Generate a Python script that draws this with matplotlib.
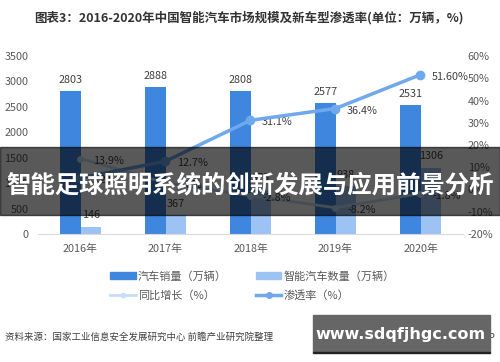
import matplotlib
matplotlib.use("Agg")

import matplotlib.pyplot as plt
from matplotlib.patches import Rectangle, Patch
from matplotlib.lines import Line2D

plt.rcParams['font.family'] = ['Noto Sans CJK SC', 'DejaVu Sans']

years = ["2016年", "2017年", "2018年", "2019年", "2020年"]
sales = [2803, 2888, 2808, 2577, 2531]
smart = [146, 367, 873, 938, 1306]
growth = [13.9, 3.0, -2.8, -8.2, -1.8]
growth_labels = ["13.9%", "3.0%", "-2.8%", "-8.2%", "-1.8%"]
penetration = [5.2, 12.7, 31.1, 36.4, 51.6]
pen_labels = ["5.2%", "12.7%", "31.1%", "36.4%", "51.60%"]

left_ticks = [0, 500, 1000, 1500, 2000, 2500, 3000, 3500]
right_ticks = [-20, -10, 0, 10, 20, 30, 40, 50, 60]

c_sales = "#3f86de"
c_smart = "#9dc3f5"
c_growth = "#c6ddf8"
c_pen = "#6fa8ec"
txt = "#595959"

fig = plt.figure(figsize=(5, 3.62), dpi=100)
ax = fig.add_axes([0.076, 0.3536, 0.85, 0.4917])
ax2 = ax.twinx()

x = list(range(len(years)))
w = 0.24
ax.bar([i - w / 2 for i in x], sales, width=w, color=c_sales, zorder=2)
ax.bar([i + w / 2 for i in x], smart, width=w, color=c_smart, zorder=2)
for i in x:
    ax.annotate(str(sales[i]), (i - w / 2, sales[i]), xytext=(0, 8),
                textcoords="offset points", ha="center", va="center",
                fontsize=7.8, color="#404040")
    ax.annotate(str(smart[i]), (i + w / 2, smart[i]), xytext=(0, 8),
                textcoords="offset points", ha="center", va="center",
                fontsize=7.8, color="#404040")

ax2.plot(x, growth, color=c_growth, lw=2, marker="o", ms=4, zorder=3)
ax2.plot(x, penetration, color=c_pen, lw=2.5, marker="o", ms=6, zorder=4)
for i in x:
    ax2.annotate(growth_labels[i], (i, growth[i]), xytext=(9, -1.5),
                 textcoords="offset points", ha="left", va="center",
                 fontsize=7.8, color="#404040")
    ax2.annotate(pen_labels[i], (i, penetration[i]), xytext=(8, -1.5),
                 textcoords="offset points", ha="left", va="center",
                 fontsize=7.8, color="#404040")

ax.set_xlim(-0.5, 4.5)
ax.set_ylim(0, 3500)
ax2.set_ylim(-20, 60)
ax.set_xticks(x)
ax.set_xticklabels(years)
ax.set_yticks(left_ticks)
ax2.set_yticks(right_ticks)
ax2.set_yticklabels(["%d%%" % t for t in right_ticks])

for a in (ax, ax2):
    for s in a.spines.values():
        s.set_visible(False)
ax.spines["bottom"].set_visible(True)
ax.spines["bottom"].set_color("#d9d9d9")
ax.tick_params(axis="both", length=0, labelsize=7.8, labelcolor=txt)
ax.tick_params(axis="y", pad=7)
ax.tick_params(axis="x", pad=7)
ax2.tick_params(axis="y", length=0, labelsize=7.8, labelcolor=txt, pad=3.5)

handles = [
    Patch(color=c_sales, label="汽车销量（万辆）"),
    Line2D([], [], color=c_growth, lw=2, marker="o", ms=3, label="同比增长（%）"),
    Patch(color=c_smart, label="智能汽车数量（万辆）"),
    Line2D([], [], color=c_pen, lw=2.5, marker="o", ms=4, label="渗透率（%）"),
]
leg = fig.legend(handles=handles, ncol=2, loc="center",
                 bbox_to_anchor=(0.505, 1 - 286 / 362), frameon=False,
                 fontsize=8, handlelength=2.3, handleheight=0.6,
                 handletextpad=0.2, columnspacing=2.6, labelspacing=0.75)
for t in leg.get_texts():
    t.set_color(txt)

fig.text(0.497, 1 - 18 / 362,
         "图表3：2016-2020年中国智能汽车市场规模及新车型渗透率(单位：万辆，%)",
         ha="center", va="center", fontsize=9, fontweight="bold", color="#333333")

fig.text(0.01, 1 - 337 / 362,
         "资料来源：国家工业信息安全发展研究中心 前瞻产业研究院整理",
         ha="left", va="center", fontsize=6.8, color="#404040")
fig.text(0.99, 1 - 337 / 362, "@前瞻经济学人APP",
         ha="right", va="center", fontsize=6.8, color="#404040")

# watermark box
fig.add_artist(Rectangle((313 / 500, 1 - 352 / 362), 177 / 500, 37 / 362,
                         transform=fig.transFigure, color="#666666", zorder=10))
fig.add_artist(Rectangle((313 / 500, 1 - 353 / 362), 177 / 500, 1.2 / 362,
                         transform=fig.transFigure, color="#222222", zorder=11))
fig.text(401 / 500, 1 - 334 / 362, "www.sdqfjhgc.com", ha="center", va="center",
         fontsize=11.5, fontweight="bold", color="white",
         family="DejaVu Sans", zorder=12)

# dark banner
fig.add_artist(Rectangle((0, 1 - 215 / 362), 1, 68 / 362,
                         transform=fig.transFigure, color="black", alpha=0.65,
                         zorder=10))
fig.text(0.5, 1 - 185 / 362, "智能足球照明系统的创新发展与应用前景分析",
         ha="center", va="center", fontsize=17.6, fontweight="bold",
         color="white", zorder=12)

fig.savefig("out.png", dpi=100)
